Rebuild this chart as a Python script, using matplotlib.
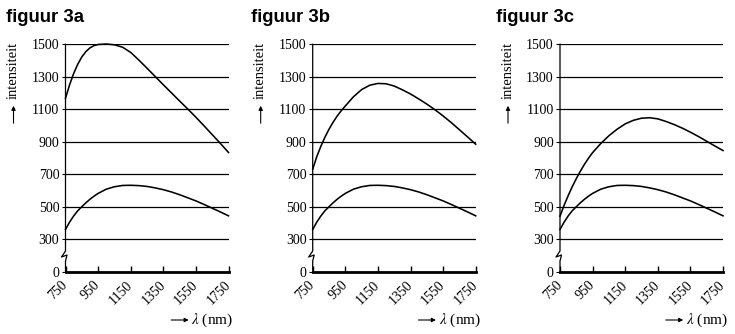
import matplotlib
matplotlib.use("Agg")
import matplotlib.pyplot as plt
from matplotlib.lines import Line2D
from matplotlib.patches import FancyArrowPatch
from matplotlib.transforms import ScaledTranslation

plt.rcParams['font.family'] = ['Liberation Serif', 'DejaVu Serif']
plt.rcParams['mathtext.fontset'] = 'stix'

# golflengte (nm): per 25 nm waar de krommen steil zijn, daarna per 50 nm
golflengte = [750, 775, 800, 825, 850, 875, 900, 925, 950, 1000, 1050, 1100,
              1150, 1200, 1250, 1300, 1350, 1400, 1450, 1500, 1550, 1600,
              1650, 1700, 1750]

# onderste kromme, in alle drie de figuren dezelfde
onder = [360, 405, 443, 475, 500, 524, 546, 565, 582, 608, 623, 631,
         632, 630, 625, 616, 605, 591, 574, 555, 536, 514, 491, 468, 444]

boven_a = [1168, 1250, 1320, 1377, 1422, 1455, 1478, 1492, 1499, 1502, 1497,
           1482, 1450, 1403, 1353, 1302, 1251, 1201, 1151, 1102, 1051, 998,
           944, 890, 834]
boven_b = [731, 808, 872, 928, 977, 1020, 1058, 1091, 1120, 1177, 1221, 1248,
           1259, 1257, 1243, 1220, 1194, 1164, 1132, 1097, 1059, 1018, 974,
           930, 885]
boven_c = [442, 508, 568, 623, 673, 719, 761, 799, 833, 889, 937, 977, 1010,
           1032, 1045, 1048, 1041, 1025, 1006, 984, 959, 932, 903, 874, 846]

titels = ['figuur 3a', 'figuur 3b', 'figuur 3c']
yticks = [100, 300, 500, 700, 900, 1100, 1300, 1500]   # 100 staat voor de 0 onder de onderbreking
ylabels = ['0', '300', '500', '700', '900', '1100', '1300', '1500']
xticks = [750, 950, 1150, 1350, 1550, 1750]

W, H = 735, 334
fig = plt.figure(figsize=(W / 100, H / 100), dpi=100)

links = [65.5, 312.7, 560]
breedte = 163
top_px, bodem_px = 44.3, 271.7
titel_x = [6, 251, 496]


def px2fig(x, y):
    return x / W, 1 - y / H


for i, boven in enumerate([boven_a, boven_b, boven_c]):
    l = links[i]
    ax = fig.add_axes([l / W, 1 - bodem_px / H, breedte / W, (bodem_px - top_px) / H])
    ax.set_xlim(750, 1750)
    ax.set_ylim(100, 1500)

    ax.plot(golflengte, boven, color='black', lw=1.15, clip_on=False, zorder=3)
    ax.plot(golflengte, onder, color='black', lw=1.15, clip_on=False, zorder=3)

    ax.set_yticks(yticks)
    ax.set_yticklabels(ylabels)
    ax.set_xticks(xticks)
    ax.set_xticklabels([str(x) for x in xticks], rotation=45, ha='right',
                       va='center', rotation_mode='anchor')
    # labels iets naar rechts, zodat het eind onder de streep valt
    for lab in ax.get_xticklabels():
        lab.set_transform(lab.get_transform() +
                          ScaledTranslation(4 / 100, 0, fig.dpi_scale_trans))
    ax.grid(axis='y', color='black', lw=0.9)
    ax.set_axisbelow(True)

    for s in ['top', 'right', 'left']:
        ax.spines[s].set_visible(False)
    ax.spines['bottom'].set_linewidth(2.0)
    ax.tick_params(axis='y', direction='out', length=3, width=0.8, pad=1.5,
                   labelsize=10)
    ax.tick_params(axis='x', direction='in', length=4, width=1.0, pad=8,
                   labelsize=10)

    # linker as met onderbreking (zigzag) tussen 0 en 300
    as_pts = [(l, top_px), (l, 251), (l - 4, 257), (l + 1.5, 255), (l, 261),
              (l, bodem_px)]
    xs, ys = zip(*[px2fig(x, y) for x, y in as_pts])
    fig.add_artist(Line2D(xs, ys, color='black', lw=0.9,
                          transform=fig.transFigure))

    fig.text(titel_x[i] / W, 1 - 22.5 / H, titels[i], fontsize=13.3,
             fontweight='bold', family='Liberation Sans', va='baseline')

    # y-label met pijl
    lx = l - 52
    fig.text(lx / W, 1 - 70 / H, 'intensiteit', rotation=90, fontsize=10.5,
             ha='center', va='center')
    fig.add_artist(FancyArrowPatch(
        px2fig(lx, 126), px2fig(lx, 103), arrowstyle='-|>', mutation_scale=6,
        lw=0.8, color='black', transform=fig.transFigure))

    # x-label met pijl
    r = l + breedte
    fig.add_artist(FancyArrowPatch(
        px2fig(r - 60, 320), px2fig(r - 37, 320), arrowstyle='-|>',
        mutation_scale=6, lw=0.8, color='black', transform=fig.transFigure))
    fig.text((r + 5) / W, 1 - 320 / H, r'$\lambda$ (nm)', fontsize=11,
             ha='right', va='center')

fig.savefig('out.png', dpi=100)
